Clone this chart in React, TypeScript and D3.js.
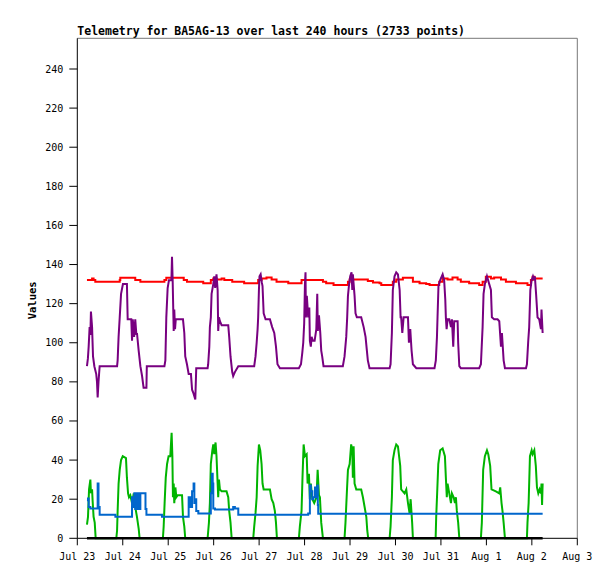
import React from "react";
import * as d3 from "d3";

const titleText = "Telemetry for BA5AG-13 over last 240 hours (2733 points)";
const yAxisLabel = "Values";
const xTickHours = [0, 24, 48, 72, 96, 120, 144, 168, 192, 216, 240, 264];
const xTickLabels = ["Jul 23", "Jul 24", "Jul 25", "Jul 26", "Jul 27", "Jul 28", "Jul 29", "Jul 30", "Jul 31", "Aug 1", "Aug 2", "Aug 3"];
const yTicks = [0, 20, 40, 60, 80, 100, 120, 140, 160, 180, 200, 220, 240];

// [hour since Jul 23 00:00, value]
const redSeries: [number, number][] = [
  [5.1, 132.1], [7.8, 132.9], [8.6, 132.1], [9.5, 131.2], [22.4, 132.1], [22.7, 133.2], [30.6, 132.1], [33.3, 131.2],
  [46.0, 132.1], [47.0, 133.2], [56.2, 132.1], [57.9, 131.2], [66.5, 130.4], [70.5, 132.1], [71.8, 132.9], [73.5, 132.4],
  [76.2, 132.9], [77.6, 132.1], [81.8, 131.2], [88.1, 130.4], [95.5, 132.1], [97.3, 132.9], [99.9, 133.4], [102.6, 132.4],
  [105.2, 131.2], [111.4, 130.4], [118.4, 132.1], [129.7, 131.2], [131.4, 130.4], [135.3, 129.5], [142.9, 131.2], [143.8, 132.4],
  [153.4, 131.6], [156.1, 130.8], [159.6, 130.4], [160.5, 129.5], [166.6, 131.2], [168.4, 132.4], [171.9, 133.2], [177.2, 131.2],
  [180.7, 130.4], [184.2, 130.0], [186.0, 129.5], [191.1, 131.2], [192.9, 132.9], [195.5, 132.4], [198.1, 133.4], [200.8, 132.4],
  [202.5, 131.2], [206.9, 130.4], [212.2, 129.5], [214.0, 131.2], [215.7, 133.8], [218.4, 132.9], [220.1, 133.4], [223.7, 132.4],
  [226.3, 131.2], [231.6, 130.4], [237.7, 129.5], [239.5, 132.1], [240.4, 133.8], [241.3, 132.9], [245.7, 132.9],
];

const purpleSeries: [number, number][] = [
  [5.1, 88], [5.6, 92], [6.0, 98], [6.5, 108], [6.9, 104], [7.2, 116], [7.8, 108], [8.3, 93], [9.0, 88], [10.0, 84], [10.4, 80],
  [10.75, 72], [11.2, 80], [11.5, 84], [11.8, 88], [21.0, 88], [21.3, 91], [21.8, 103], [22.4, 113], [23.1, 125], [24.1, 130],
  [26.2, 130], [26.6, 112], [28.5, 112], [28.9, 101], [29.3, 112], [30.0, 103], [30.6, 112], [31.2, 104], [31.5, 105], [32.4, 96],
  [33.3, 88], [34.2, 83], [35.0, 77], [36.5, 77], [36.7, 88], [46.0, 88], [46.5, 91], [47.0, 113], [47.7, 128], [48.4, 132],
  [49.7, 132], [50.0, 144], [50.35, 132], [50.9, 106], [51.2, 117], [51.6, 107], [52.0, 112], [55.8, 112], [56.5, 105], [57.0, 93],
  [57.9, 89], [58.8, 84], [60.0, 84], [60.6, 76], [61.4, 74], [62.3, 71], [62.8, 87], [68.8, 87], [69.1, 89], [69.7, 98],
  [70.0, 108], [70.5, 113], [70.9, 125], [71.8, 130], [72.3, 134], [72.8, 128], [73.5, 135], [74.1, 127], [74.4, 106], [74.8, 113],
  [75.3, 111], [76.2, 109], [79.7, 109], [80.2, 103], [80.9, 93], [81.8, 85], [82.3, 83], [83.2, 85], [85.0, 88], [93.4, 88],
  [94.1, 93], [94.7, 100], [95.2, 107], [95.5, 113], [95.9, 127], [96.2, 134], [96.8, 135], [97.4, 131], [97.8, 129], [98.4, 115],
  [99.4, 112], [101.7, 112], [102.9, 108], [104.0, 105], [104.9, 98], [105.7, 89], [107.0, 87], [117.0, 87], [118.1, 89], [118.8, 95],
  [119.3, 100], [119.8, 110], [120.2, 130], [120.5, 136], [120.7, 113], [121.2, 124], [121.9, 113], [122.5, 118], [122.8, 101],
  [123.3, 98], [123.7, 103], [124.4, 101], [125.3, 101], [126.2, 107], [126.7, 125], [127.0, 106], [127.6, 114], [128.3, 105],
  [128.8, 96], [129.3, 93], [130.0, 88], [140.2, 88], [141.1, 93], [142.0, 103], [142.5, 113], [142.9, 124], [143.4, 129],
  [144.1, 134], [144.8, 136], [145.2, 127], [145.5, 135], [146.4, 124], [146.9, 115], [147.6, 113], [149.9, 113], [151.2, 108],
  [152.2, 103], [152.9, 96], [153.4, 91], [154.3, 87], [164.9, 87], [165.4, 89], [166.1, 105], [166.6, 127], [167.5, 134],
  [168.4, 136], [169.3, 135], [170.2, 127], [170.7, 113], [171.0, 113], [171.6, 105], [172.3, 113], [174.6, 113], [175.1, 100],
  [175.8, 107], [176.5, 96], [177.2, 89], [178.1, 88], [179.0, 87], [188.6, 87], [189.3, 91], [189.9, 103], [190.2, 113],
  [190.7, 129], [191.6, 132], [192.9, 135], [193.7, 132], [194.3, 122], [194.6, 113], [195.0, 107], [195.5, 112], [196.4, 112],
  [197.3, 108], [197.8, 112], [198.5, 98], [199.0, 111], [200.8, 111], [201.1, 100], [201.7, 88], [202.5, 87], [212.2, 87],
  [213.1, 89], [214.0, 108], [214.5, 125], [215.2, 130], [216.3, 134], [217.5, 130], [218.4, 127], [218.9, 113], [220.1, 112],
  [221.9, 112], [222.8, 111], [223.7, 98], [224.2, 105], [225.1, 91], [225.8, 87], [236.9, 87], [237.4, 89], [238.1, 101],
  [238.6, 108], [239.2, 127], [239.9, 132], [240.6, 134], [241.3, 132], [241.6, 134], [242.3, 124], [243.0, 113], [243.9, 112],
  [244.8, 107], [245.1, 117], [245.7, 105],
];

const greenSeries: [number, number][] = [
  [5.1, 7], [5.65, 11], [6.2, 25], [6.9, 30], [7.2, 23], [7.8, 25], [8.1, 19], [8.6, 11], [9.2, 8], [9.7, 0], [20.6, 0], [21.0, 4],
  [21.3, 14], [21.8, 28], [22.4, 35], [23.1, 40], [24.0, 42], [25.7, 41], [26.2, 31], [26.8, 23], [27.3, 21], [28.0, 22], [28.9, 18],
  [29.8, 23], [30.6, 16], [31.5, 11], [32.4, 5], [32.9, 0], [45.2, 0], [45.6, 6], [46.1, 18], [46.7, 31], [47.4, 38], [48.2, 42],
  [49.1, 42], [49.8, 54], [50.2, 42], [50.5, 21], [50.9, 28], [51.2, 18], [51.8, 26], [52.3, 21], [53.0, 22], [55.3, 22], [55.8, 11],
  [56.5, 6], [57.0, 0], [68.8, 0], [69.5, 8], [70.0, 18], [70.5, 38], [71.3, 45], [71.8, 48], [72.3, 43], [73.0, 49], [73.5, 42],
  [74.1, 28], [74.4, 21], [74.8, 30], [75.3, 25], [76.2, 24], [78.8, 24], [79.7, 21], [80.2, 14], [80.9, 8], [81.5, 0], [92.9, 0],
  [93.4, 6], [94.1, 13], [94.7, 21], [95.2, 37], [95.9, 48], [96.6, 45], [97.3, 38], [97.8, 28], [98.4, 25], [101.7, 25], [102.6, 20],
  [103.5, 18], [104.3, 14], [104.9, 8], [105.4, 0], [117.0, 0], [117.5, 6], [118.4, 14], [118.9, 31], [119.5, 48], [120.2, 42],
  [121.1, 43], [121.6, 28], [122.3, 33], [122.8, 20], [123.3, 28], [124.1, 20], [125.1, 18], [126.3, 21], [126.9, 35], [127.6, 22],
  [128.1, 21], [128.8, 8], [129.7, 0], [141.1, 0], [141.6, 8], [142.4, 25], [142.9, 35], [143.8, 38], [144.6, 48], [145.2, 45],
  [145.5, 31], [145.9, 47], [146.4, 28], [147.3, 25], [149.9, 25], [150.8, 21], [151.7, 16], [152.6, 11], [153.1, 4], [153.6, 0],
  [164.9, 0], [165.4, 6], [166.1, 21], [166.6, 40], [167.5, 45], [168.4, 48], [169.3, 47], [170.5, 37], [171.0, 25], [172.8, 23],
  [173.7, 25], [174.6, 18], [175.4, 13], [176.0, 20], [176.8, 8], [177.2, 0], [189.2, 0], [189.5, 11], [190.0, 23], [190.6, 38],
  [191.6, 45], [192.9, 46], [194.1, 42], [194.6, 31], [195.1, 21], [195.5, 28], [196.4, 23], [197.3, 18], [197.8, 23], [198.7, 21],
  [199.4, 18], [199.9, 21], [200.4, 14], [201.1, 8], [201.7, 0], [213.1, 0], [213.6, 8], [214.3, 35], [215.2, 42], [216.3, 45],
  [217.0, 43], [218.0, 37], [218.7, 25], [221.0, 24], [222.8, 23], [223.3, 26], [224.0, 18], [224.5, 14], [225.1, 8], [225.8, 0],
  [237.4, 0], [237.7, 8], [238.3, 18], [239.0, 42], [239.9, 45], [240.4, 43], [241.3, 45], [242.1, 37], [242.7, 26], [243.4, 23],
  [244.1, 25], [244.8, 23], [245.1, 28], [245.4, 17], [245.7, 28],
];

const blueSeries: [number, number][] = [
  [5.1, 19.5], [5.65, 20.4], [6.0, 16], [6.9, 15.3], [10.4, 15.3], [10.75, 28], [11.2, 16], [11.8, 12], [20.1, 11], [28.9, 21],
  [29.4, 16], [30.1, 23], [30.6, 15], [31.5, 23], [32.4, 15], [33.3, 23], [35.6, 23], [36.0, 15], [36.5, 12], [44.7, 11],
  [58.8, 21], [59.7, 16], [60.6, 24], [61.4, 28], [61.8, 18], [62.3, 20], [62.8, 14], [63.9, 12.7], [70.0, 12.7], [70.5, 23],
  [71.0, 33], [71.5, 28], [71.8, 15.3], [72.7, 14.7], [82.3, 16], [83.2, 15.3], [85.0, 12], [121.9, 12.7], [122.8, 27],
  [123.3, 24], [124.1, 20], [124.6, 21], [125.5, 26], [125.8, 21], [126.3, 23], [126.7, 27], [127.0, 17], [127.2, 12.5],
  [245.7, 12.5],
];

const blackSeries: [number, number][] = [[5.1, 0], [245.7, 0]];

const W = 615;
const H = 579;
const plotLeft = 77.3;
const plotRight = 577.3;
const plotTop = 38.3;
const plotBottom = 538.3;

export default function App() {
  const x = d3.scaleLinear().domain([0, 264]).range([plotLeft, plotRight]);
  const y = d3.scaleLinear().domain([0, 240]).range([plotBottom, 69]);

  const linear = d3.line<[number, number]>().x((d) => x(d[0])).y((d) => y(d[1]));
  const stepped = d3
    .line<[number, number]>()
    .x((d) => x(d[0]))
    .y((d) => y(d[1]))
    .curve(d3.curveStepAfter);

  const mono = "'DejaVu Sans Mono', 'Liberation Mono', monospace";

  return (
    <svg
      width={W}
      height={H}
      style={{ position: "absolute", left: 0, top: 0, background: "#fff" }}
      fontFamily={mono}
    >
      <rect x={0} y={0} width={W} height={H} fill="#fff" />
      <text x={plotLeft} y={35} fontSize={11.5} fontWeight="bold" fill="#000">
        {titleText}
      </text>
      {/* frame */}
      <line x1={plotLeft} x2={plotRight} y1={plotTop} y2={plotTop} stroke="#777" strokeWidth={1} />
      <line x1={plotRight} x2={plotRight} y1={plotTop} y2={plotBottom} stroke="#777" strokeWidth={1} />
      {/* series */}
      <path d={stepped(redSeries) || ""} fill="none" stroke="#ff0000" strokeWidth={2} />
      <path d={linear(purpleSeries) || ""} fill="none" stroke="#780080" strokeWidth={2} />
      <path d={linear(greenSeries) || ""} fill="none" stroke="#00b400" strokeWidth={2} />
      <path d={stepped(blueSeries) || ""} fill="none" stroke="#0066cc" strokeWidth={2} />
      {/* axes */}
      <line x1={plotLeft} x2={plotLeft} y1={plotTop} y2={plotBottom} stroke="#000" strokeWidth={1} />
      <line x1={plotLeft} x2={plotRight} y1={plotBottom} y2={plotBottom} stroke="#000" strokeWidth={1} />
      <path d={linear(blackSeries) || ""} fill="none" stroke="#000" strokeWidth={2.5} />
      {yTicks.map((t) => (
        <g key={"y" + t}>
          <line x1={plotLeft - 8} x2={plotLeft} y1={y(t)} y2={y(t)} stroke="#000" strokeWidth={1} />
          <text x={plotLeft - 14} y={y(t)} dy="0.35em" textAnchor="end" fontSize={10} fill="#000">
            {t}
          </text>
        </g>
      ))}
      {xTickHours.map((h, i) => (
        <g key={"x" + h}>
          <line x1={x(h)} x2={x(h)} y1={plotBottom} y2={plotBottom + 7} stroke="#000" strokeWidth={1} />
          <text x={x(h)} y={560} textAnchor="middle" fontSize={10} fill="#000">
            {xTickLabels[i]}
          </text>
        </g>
      ))}
      <text
        transform={`translate(36, ${(plotTop + plotBottom) / 2 + 12}) rotate(-90)`}
        textAnchor="middle"
        fontSize={10.5}
        fontWeight="bold"
        fill="#000"
      >
        {yAxisLabel}
      </text>
    </svg>
  );
}
